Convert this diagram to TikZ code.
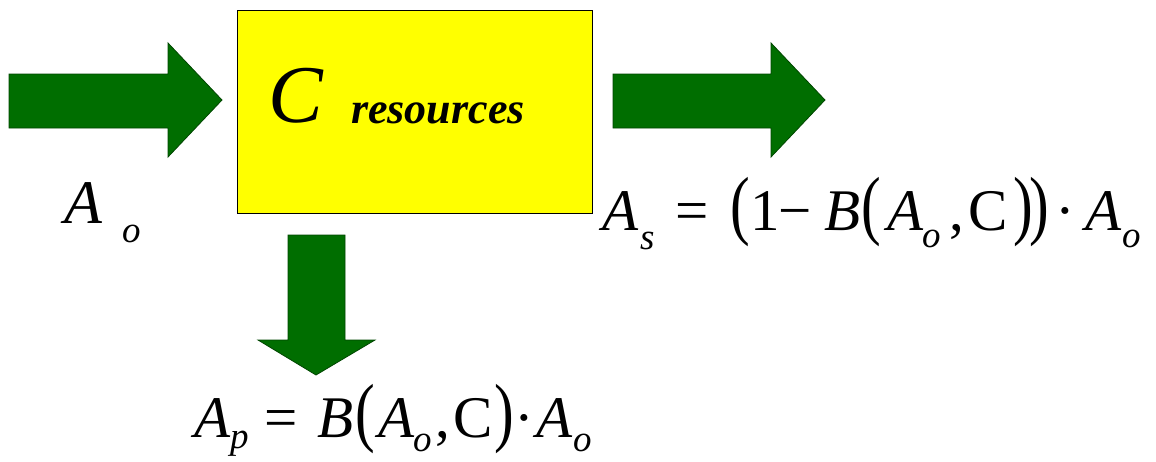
\documentclass[tikz,border=0pt]{standalone}
\usepackage{fontspec}
\setmainfont{Liberation Serif}
\usepackage{graphicx}
\definecolor{arrowgreen}{RGB}{0,110,0}
\definecolor{arrowedge}{RGB}{0,70,0}
\definecolor{boxyellow}{RGB}{255,255,0}
\tikzset{
  blockarrow/.style={fill=arrowgreen, draw=arrowedge, line width=0.8pt, line join=miter},
  resbox/.style={draw=black, line width=1pt, fill=boxyellow, minimum width=355pt, minimum height=203pt, inner sep=0pt},
  eqtext/.style={anchor=base west, inner sep=0pt, font=\fontsize{59}{59}\selectfont}
}
\newcommand{\mysub}[2][0.3em]{\raisebox{-#1}{\fontsize{37}{37}\selectfont\itshape #2}}
\newcommand{\bigpar}[1]{\scalebox{1}[1.3]{\upshape #1}}
\newcommand{\gb}[2]{\makebox[#1pt][l]{#2}}
\newcommand{\vA}{\textit{A}}
\newcommand{\vB}{\textit{B}}
\begin{document}
\begin{tikzpicture}[x=1pt,y=-1pt]
\useasboundingbox (0,0) rectangle (1156,461);
% box
\node[resbox] (res) at (414.5,111.5) {};
\node[anchor=base west, inner sep=0pt, font=\fontsize{82}{82}\selectfont\itshape] (C) at (268,122) {C};
\node[anchor=base west, inner sep=0pt, font=\fontsize{44}{44}\selectfont\bfseries\itshape] (resw) at (351,123) {resources};
% arrows
\draw[blockarrow] (9,74) -- (168,74) -- (168,43) -- (222,100) -- (168,157) -- (168,128) -- (9,128) -- cycle;
\draw[blockarrow] (613,74) -- (771,74) -- (771,43) -- (825,100) -- (771,157) -- (771,128) -- (613,128) -- cycle;
\draw[blockarrow] (288,235) -- (345,235) -- (345,340) -- (375,340) -- (316,375) -- (258,340) -- (288,340) -- cycle;
% labels
\node[anchor=base west, inner sep=0pt, font=\fontsize{62}{62}\selectfont\itshape] (Ao) at (64,223) {A};
\node[anchor=base west, inner sep=0pt, font=\fontsize{37}{37}\selectfont\itshape] (Aosub) at (122,242) {o};
\node[eqtext] (As) at (602,230) {\gb{38}{\vA}\gb{35}{\mysub[0.33em]{s}}\gb{55}{=}\gb{20}{\bigpar{(}}\gb{28}{1}\gb{46}{−}\gb{37}{\vB}\gb{26}{\bigpar{(}}\gb{35}{\vA}\gb{27}{\mysub{o}}\gb{19}{,}\gb{45}{C}\gb{16}{\bigpar{)}}\gb{26}{\bigpar{)}}\gb{30}{·}\gb{37}{\vA}\mysub{o}};
\node[eqtext] (Ap) at (194,437) {\gb{36}{\vA}\gb{34}{\mysub[0.2em]{p}}\gb{53}{=}\gb{38}{\vB}\gb{23}{\bigpar{(}}\gb{35}{\vA}\gb{22}{\mysub[0.25em]{o}}\gb{18}{,}\gb{41}{C}\gb{20}{\bigpar{)}}\gb{22}{·}\gb{37}{\vA}\mysub[0.25em]{o}};
\end{tikzpicture}
\end{document}
